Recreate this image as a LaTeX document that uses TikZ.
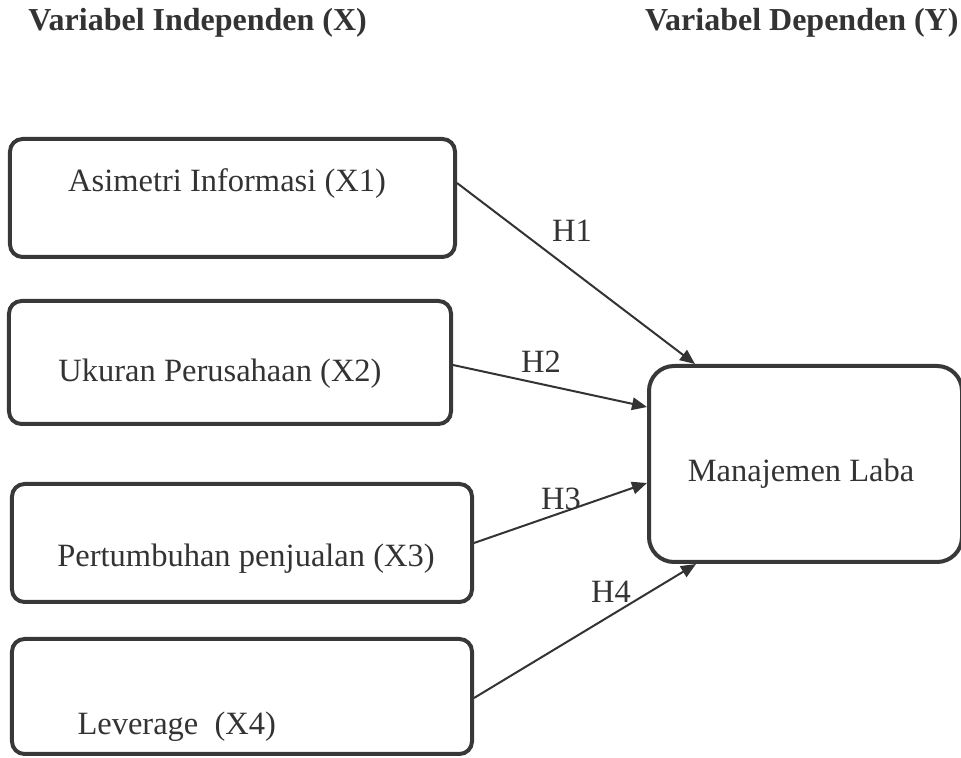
\documentclass[tikz,border=0pt]{standalone}
\usepackage{fontspec}
\setmainfont{Liberation Serif}
\usetikzlibrary{arrows.meta, positioning}

\begin{document}
\begin{tikzpicture}[
        x = 0.4pt, y = -0.4pt,
        >= {Triangle[length = 6pt, width = 5pt]},
        varbox/.style = {draw = black!78, line width = 1.6pt, rounded corners = 5pt, inner sep = 0pt},
        vartext/.style = {text = black!80, font = \fontsize{13}{15}\selectfont, inner sep = 0pt, anchor = base},
        heading/.style = {text = black!80, font = \fontsize{12.8}{15}\selectfont\bfseries, inner sep = 0pt},
        link/.style = {->, draw = black!80, line width = 0.8pt}
    ]

    \useasboundingbox (0,0) rectangle (961,758);

      % judul kolom
      \node[heading, anchor = base west] (headx) at (28,31) {Variabel Independen (X)};
      \node[heading, anchor = base east] (heady) at (959,31) {Variabel Dependen (Y)};

      % variabel independen
      \node[varbox, minimum width = 178pt, minimum height = 47.2pt] (x1) at (232.5,198) {};
      \node[varbox, minimum width = 176.8pt, minimum height = 49.2pt] (x2) at (230,362.5) {};
      \node[varbox, minimum width = 184pt, minimum height = 47.2pt] (x3) at (242,543) {};
      \node[varbox, minimum width = 184pt, minimum height = 46pt] (x4) at (242,696.5) {};

      \node[vartext] (x1text) at (227,192) {Asimetri Informasi (X1)};
      \node[vartext] (x2text) at (220,382) {Ukuran Perusahaan (X2)};
      \node[vartext] (x3text) at (246,567) {Pertumbuhan penjualan (X3)};
      \node[vartext, anchor = base west] (x4text) at (77,735) {Leverage\ \ (X4)};

      % variabel dependen
      \node[varbox, rounded corners = 10pt, minimum width = 125.2pt, minimum height = 78.4pt] (y) at (805.5,464) {};
      \node[vartext] (ytext) at (801,482) {Manajemen Laba};

      \draw[link] ([yshift = 6pt]x1.east) -- ([xshift = 19.2pt]y.north west);
      \draw[link] ([yshift = -1pt]x2.east) -- ([yshift = 22.8pt]y.west);
      \draw[link] (x3.east) -- ([yshift = -7.6pt]y.west);
      \draw[link] ([yshift = -0.6pt]x4.east) -- ([xshift = 19.6pt]y.south west);

      \node[vartext] (h1) at (572,242) {H1};
      \node[vartext] (h2) at (541,373) {H2};
      \node[vartext] (h3) at (561,510) {H3};
      \node[vartext] (h4) at (611,603) {H4};

\end{tikzpicture}
\end{document}
